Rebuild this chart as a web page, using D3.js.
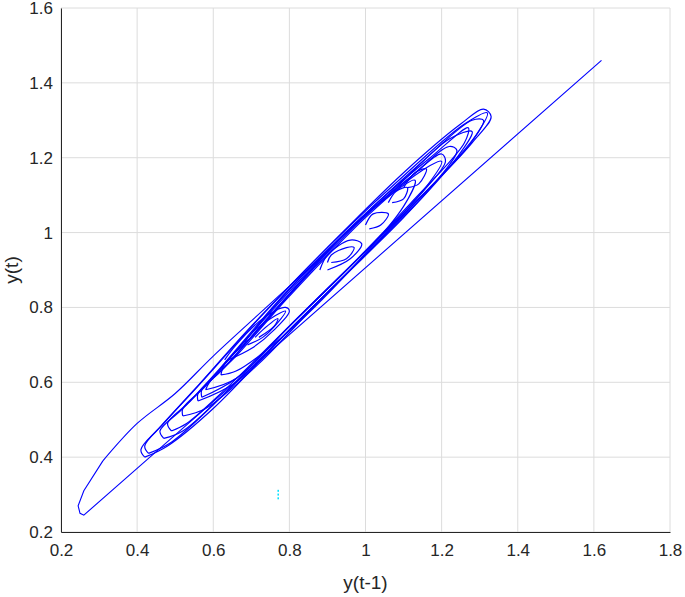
<!DOCTYPE html>
<html><head><meta charset="utf-8">
<script src="https://cdn.jsdelivr.net/npm/d3@7"></script>
<style>body{margin:0;background:#fff}text{font-family:"Liberation Sans",Arial,sans-serif}</style>
</head><body><div id="chart"></div>
<script>
// tick values
let xTicks = [0.2,0.4,0.6,0.8,1,1.2,1.4,1.6,1.8];
let yTicks = [0.2,0.4,0.6,0.8,1,1.2,1.4,1.6];

// transient path from the start point down and into the attractor
let transient = [[1.62,1.46],[0.4,0.37],[0.26,0.245],[0.25,0.25],[0.245,0.27],[0.26,0.31],[0.31,0.39],[0.4,0.49],[0.5,0.57],[0.6,0.67],[0.75,0.81],[0.9,0.95]];

// big loops of the attractor
let loop1 = [[0.42,0.40],[0.41,0.42],[0.46,0.48],[0.55,0.58],[0.7,0.75],[0.9,0.96],[1.1,1.16],[1.25,1.29],[1.31,1.33],[1.33,1.31],[1.28,1.24],[1.15,1.1],[1.0,0.94],[0.8,0.74],[0.6,0.53],[0.48,0.43],[0.42,0.40]];
let loop1b = [[0.43,0.41],[0.42,0.43],[0.47,0.49],[0.56,0.59],[0.72,0.77],[0.92,0.98],[1.12,1.17],[1.26,1.29],[1.32,1.32],[1.29,1.26],[1.16,1.11],[1.0,0.95],[0.8,0.75],[0.6,0.54],[0.49,0.44],[0.43,0.41]];
let loop2 = [[0.47,0.45],[0.46,0.47],[0.52,0.53],[0.62,0.64],[0.8,0.85],[1.0,1.05],[1.15,1.19],[1.28,1.3],[1.31,1.3],[1.27,1.23],[1.12,1.07],[0.95,0.89],[0.78,0.72],[0.62,0.56],[0.52,0.47],[0.47,0.45]];
let loop2b = [[0.49,0.47],[0.48,0.49],[0.54,0.55],[0.64,0.66],[0.82,0.87],[1.02,1.07],[1.17,1.2],[1.27,1.28],[1.26,1.24],[1.12,1.08],[0.95,0.9],[0.78,0.73],[0.62,0.57],[0.53,0.49],[0.49,0.47]];
let loop3 = [[0.52,0.51],[0.52,0.53],[0.58,0.59],[0.7,0.73],[0.9,0.95],[1.08,1.12],[1.22,1.25],[1.28,1.27],[1.24,1.2],[1.1,1.04],[0.9,0.84],[0.72,0.65],[0.58,0.53],[0.52,0.51]];
let loop4 = [[0.56,0.55],[0.56,0.57],[0.62,0.63],[0.75,0.78],[0.95,1.0],[1.12,1.15],[1.22,1.23],[1.24,1.22],[1.18,1.13],[1.02,0.96],[0.82,0.76],[0.66,0.6],[0.56,0.55]];
let loop4b = [[0.57,0.56],[0.57,0.58],[0.63,0.64],[0.76,0.79],[0.96,1.01],[1.12,1.15],[1.2,1.21],[1.21,1.19],[1.16,1.12],[1.0,0.95],[0.82,0.77],[0.66,0.61],[0.57,0.56]];
let loop5 = [[0.58,0.58],[0.59,0.6],[0.66,0.67],[0.8,0.83],[1.0,1.04],[1.14,1.16],[1.2,1.19],[1.15,1.11],[1.0,0.95],[0.8,0.75],[0.66,0.61],[0.58,0.58]];
let loop6 = [[0.62,0.62],[0.63,0.65],[0.7,0.72],[0.86,0.9],[1.04,1.08],[1.13,1.14],[1.1,1.07],[0.96,0.9],[0.78,0.72],[0.66,0.63],[0.62,0.62]];
// small inner loops
let loop7 = [[0.63,0.66],[0.66,0.7],[0.73,0.77],[0.79,0.8],[0.8,0.79],[0.76,0.74],[0.7,0.69],[0.64,0.66]];
let loop8 = [[0.68,0.7],[0.7,0.73],[0.75,0.77],[0.79,0.79],[0.77,0.76],[0.73,0.72],[0.69,0.7]];
let loop9 = [[0.71,0.72],[0.73,0.74],[0.77,0.77],[0.76,0.75],[0.72,0.72]];
let loop10 = [[0.9,0.92],[0.91,0.94],[0.95,0.96],[0.97,0.96],[0.95,0.93],[0.91,0.92]];
let loop11 = [[0.88,0.9],[0.9,0.94],[0.96,0.98],[0.99,0.97],[0.96,0.93],[0.9,0.9]];
let loop12 = [[1.0,1.02],[1.02,1.05],[1.06,1.05],[1.04,1.02],[1.01,1.01]];
let loop13 = [[1.06,1.08],[1.08,1.11],[1.11,1.12],[1.1,1.09],[1.07,1.08]];
let loop14 = [[1.1,1.12],[1.13,1.16],[1.16,1.17],[1.14,1.13],[1.11,1.12]];
let loops = [loop1,loop1b,loop2,loop2b,loop3,loop4,loop4b,loop5,loop6,loop7,loop8,loop9,loop10,loop11,loop12,loop13,loop14];

// stray cyan dots
let dots = [[0.77,0.29],[0.77,0.30],[0.77,0.31]];

let width = 685, height = 597;
let margin = {left:61, right:15, top:8, bottom:65};

let svg = d3.select("#chart").append("svg").attr("width", width).attr("height", height);
let x = d3.scaleLinear().domain([0.2,1.8]).range([margin.left, width-margin.right]);
let y = d3.scaleLinear().domain([0.2,1.6]).range([height-margin.bottom, margin.top]);

// grid
svg.append("g").selectAll("line").data(xTicks).join("line")
    .attr("x1", d=>x(d)).attr("x2", d=>x(d)).attr("y1", y(0.2)).attr("y2", y(1.6))
    .style("stroke","#dcdcdc");
svg.append("g").selectAll("line").data(yTicks).join("line")
    .attr("y1", d=>y(d)).attr("y2", d=>y(d)).attr("x1", x(0.2)).attr("x2", x(1.8))
    .style("stroke","#dcdcdc");

let fmt = d => d3.format("")(+d.toFixed(1));
let xAxis = svg.append("g").attr("transform","translate(0,"+y(0.2)+")")
    .call(d3.axisBottom(x).tickValues(xTicks).tickFormat(fmt).tickSize(0).tickPadding(12));
let yAxis = svg.append("g").attr("transform","translate("+x(0.2)+",0)")
    .call(d3.axisLeft(y).tickValues(yTicks).tickFormat(fmt).tickSize(0).tickPadding(8));
[xAxis,yAxis].forEach(a=>{
    a.select(".domain").style("stroke","#262626");
    a.selectAll("text").style("font-size","17px").style("fill","#262626");
});

let line = d3.line().x(d=>x(d[0])).y(d=>y(d[1]));
let smooth = d3.line().x(d=>x(d[0])).y(d=>y(d[1])).curve(d3.curveCatmullRom);

svg.append("path").attr("d", line(transient.slice(0,7)))
    .style("fill","none").style("stroke","#0000ff").style("stroke-width",1.1);
svg.append("path").attr("d", smooth(transient.slice(6)))
    .style("fill","none").style("stroke","#0000ff").style("stroke-width",1.1);
svg.append("g").selectAll("path").data(loops).join("path")
    .attr("d", d=>smooth(d))
    .style("fill","none").style("stroke","#0000ff").style("stroke-width",1.2);

svg.append("g").selectAll("rect").data(dots).join("rect")
    .attr("x", d=>x(d[0])-0.5).attr("y", d=>y(d[1])-1)
    .attr("width",1.5).attr("height",2).style("fill","#00e0ff");

svg.append("text").attr("x", x(1)).attr("y", height-8).attr("text-anchor","middle")
    .style("font-size","19px").style("fill","#262626").text("y(t-1)");
svg.append("text").attr("transform","translate(18,"+y(0.9)+") rotate(-90)").attr("text-anchor","middle")
    .style("font-size","19px").style("fill","#262626").text("y(t)");
</script></body></html>
